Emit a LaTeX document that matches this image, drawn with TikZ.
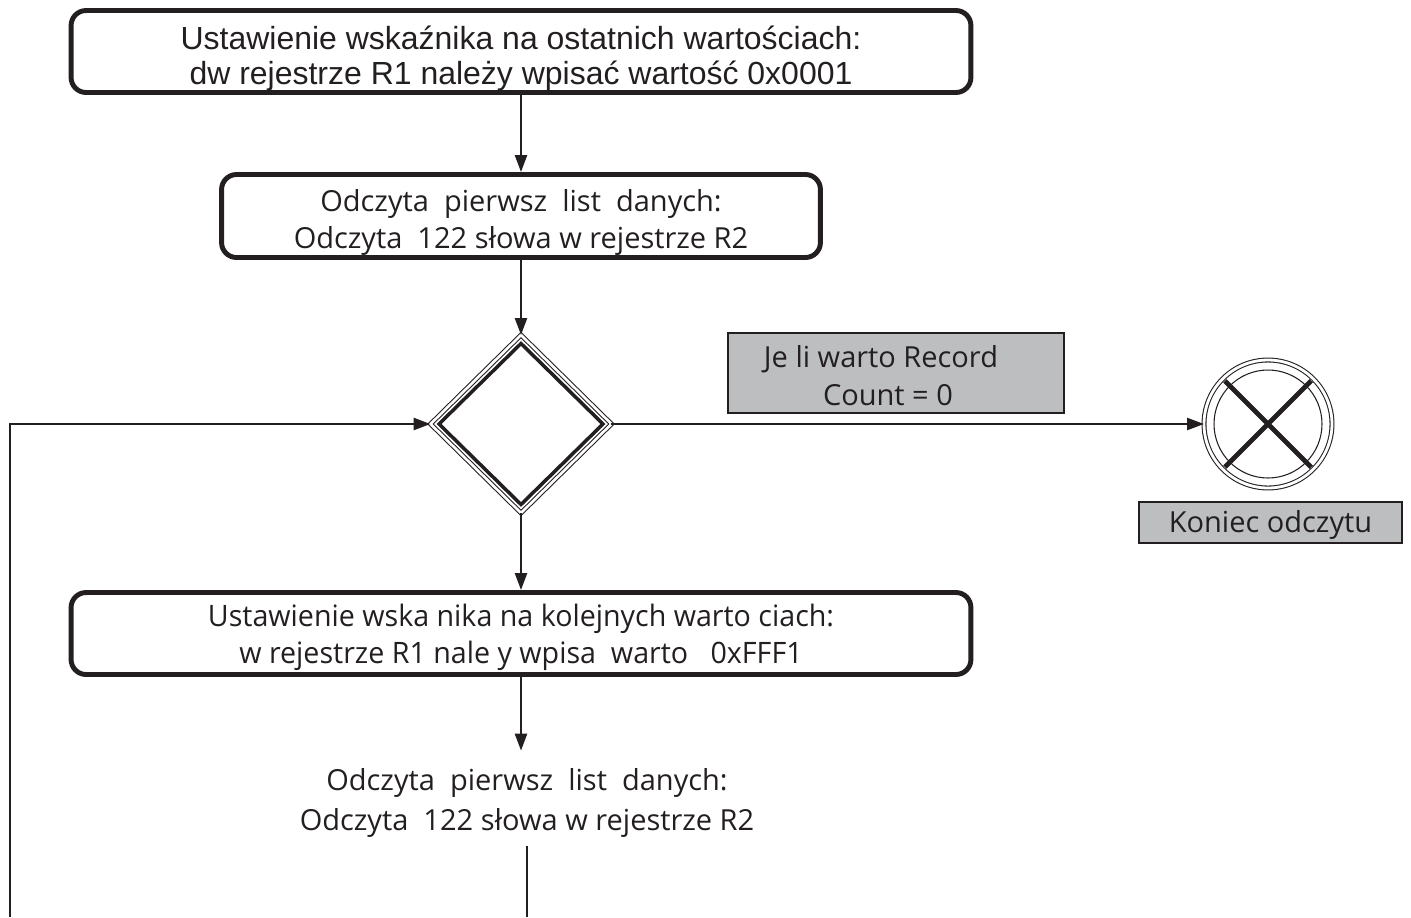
\documentclass[tikz,border=0pt]{standalone}
\usepackage{fontspec}
\setmainfont{Liberation Sans}
\newfontfamily\myriad{Open Sans}
\newfontfamily\myriadcn[FakeStretch=0.97]{Open Sans}
\usetikzlibrary{arrows.meta, shapes.geometric}
\definecolor{ink}{HTML}{231F20}
\definecolor{notegray}{HTML}{BCBEC0}
\newcommand\helv{\fontsize{18.2}{19.5}\selectfont}
\newcommand\myr{\myriad\fontsize{16.5}{20.8}\selectfont}
\newcommand\myrcn{\myriadcn\fontsize{16.8}{21}\selectfont}
\tikzset{
  >={Triangle[length=0.34cm, width=0.24cm]},
  flow/.style={->, line width=1.4pt, draw=ink},
  link/.style={line width=1.4pt, draw=ink},
  % rounded process boxes, placed by the baseline of their last line
  stepbox/.style={draw=ink, line width=2.8pt, rounded corners=0.3cm, align=center,
    inner sep=0pt, anchor=base, text=ink},
  notebox/.style={draw=ink, line width=1.1pt, fill=notegray, align=center,
    inner sep=0pt, anchor=base, text=ink},
  plaintext/.style={align=center, inner sep=0pt, anchor=base, text=ink},
  % decision: double outline outside, thick one drawn inside later
  decision/.style={diamond, draw=ink, double, double distance=1.5pt, line width=0.6pt,
    inner sep=0pt, outer sep=0pt},
  stopmark/.style={circle, draw=ink, double, double distance=1.6pt, line width=0.6pt,
    inner sep=0pt, outer sep=0pt, minimum size=2.56cm},
}
\begin{document}
\begin{tikzpicture}[x=0.02cm, y=-0.02cm]
  \useasboundingbox (0,0) rectangle (1411,917);
  % ---- first pass: last values
  \node[stepbox, minimum width=18cm, text height=1.47cm, text depth=0.17cm, font=\helv]
    (setlast) at (521,84) {Ustawienie wskaźnika na ostatnich wartościach:\\dw rejestrze R1 należy wpisać wartość 0x0001};
  \node[stepbox, minimum width=11.98cm, text height=1.476cm, text depth=0.184cm, font=\myr]
    (readfirst) at (521,248.3) {Odczyta\ \ pierwsz\ \ list\ \ danych:\\Odczyta\ \ 122 słowa w rejestrze R2};
  % ---- decision and end of reading
  \node[decision, minimum width=3.62cm, minimum height=3.56cm] (isend) at (521,424) {};
  \draw[line width=2pt, draw=ink] ([yshift=-0.17cm]isend.north) -- ([xshift=-0.17cm]isend.east)
    -- ([yshift=0.17cm]isend.south) -- ([xshift=0.17cm]isend.west) -- cycle;
  \node[notebox, minimum width=6.72cm, text height=1.44cm, text depth=0.16cm,
    font=\myriad\fontsize{16.5}{21.5}\selectfont]
    (askzero) at (896,405) {Je li warto Record\hspace*{0.6cm}\\Count = 0\hspace*{0.32cm}};
  \node[stopmark] (stop) at (1268,424) {};
  \draw[line width=0.6pt, draw=ink] (stop.center) circle (1.08cm);
  \draw[line width=2.8pt, draw=ink] ([shift={(45:1.22cm)}]stop.center) -- ([shift={(225:1.22cm)}]stop.center)
    ([shift={(135:1.22cm)}]stop.center) -- ([shift={(315:1.22cm)}]stop.center);
  \node[notebox, minimum width=5.26cm, text height=0.6cm, text depth=0.22cm, font=\myr]
    (endlabel) at (1270.5,532) {Koniec odczytu};
  % ---- next values
  \node[stepbox, minimum width=18cm, text height=1.41cm, text depth=0.23cm, font=\myrcn]
    (setnext) at (521,663) {Ustawienie wska nika na kolejnych warto ciach:\\w rejestrze R1 nale y wpisa\ \ warto\ \ \ 0xFFF1};
  \node[plaintext, text height=1.58cm, text depth=0.32cm, font=\myriad\fontsize{16.5}{22.7}\selectfont]
    (readnext) at (527,830) {Odczyta\ \ pierwsz\ \ list\ \ danych:\\Odczyta\ \ 122 słowa w rejestrze R2};
  \coordinate (tail) at (527,917);
  \coordinate (loop) at (10,917);
  % ---- connectors
  \draw[flow] (setlast) -- (readfirst);
  \draw[flow] (readfirst) -- (isend);
  \draw[flow] (isend) -- (stop);
  \draw[flow] (isend) -- (setnext);
  \draw[flow] (setnext.south) -- (setnext.south |- readnext.north);
  \draw[link] (readnext) -- (tail);
  \draw[flow] (loop) |- (isend);
\end{tikzpicture}
\end{document}
